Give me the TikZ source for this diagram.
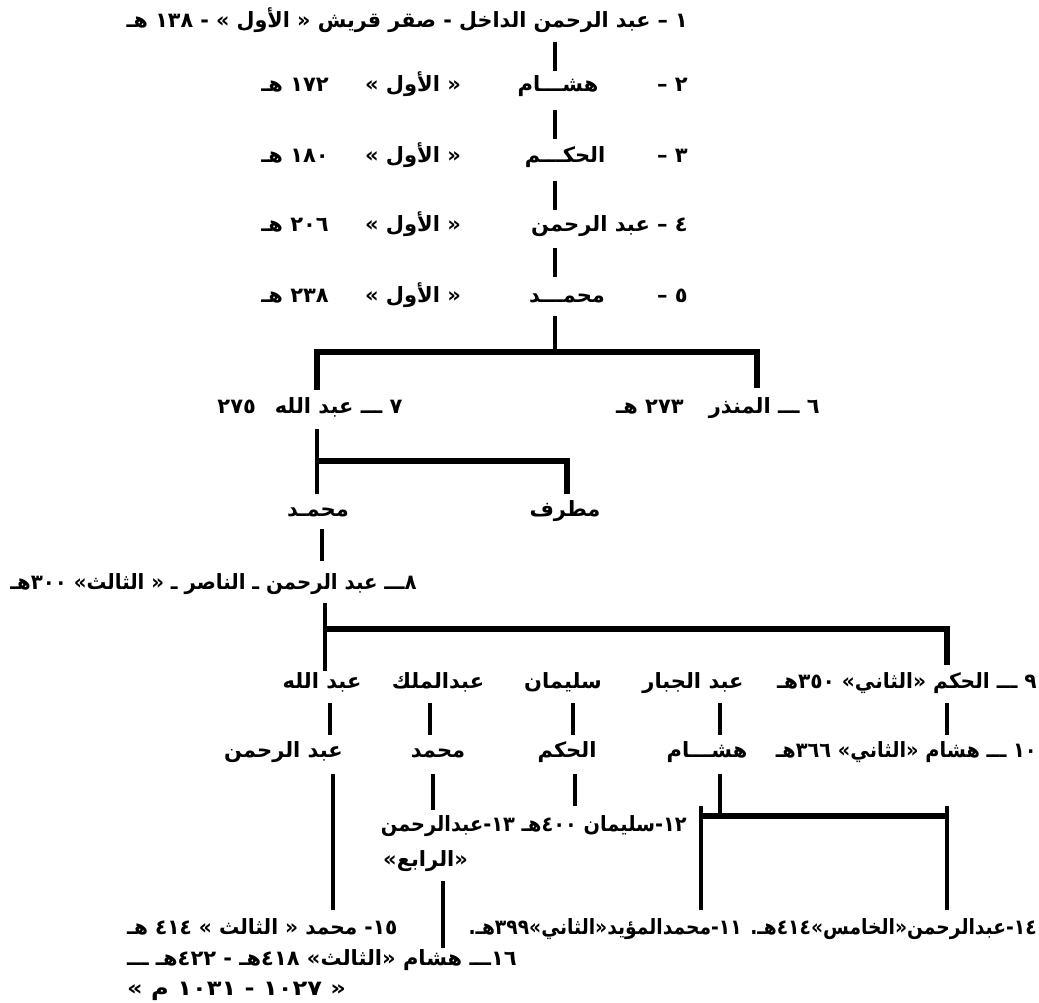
\documentclass[tikz,border=0pt]{standalone}
\usepackage{fontspec}
\newfontfamily\arf[Script=Arabic]{DejaVu Sans}
\TeXXeTstate=1
\newcommand{\arx}[1]{\beginR #1\endR}
\begin{document}
\begin{tikzpicture}[x=1pt,y=-1pt,
  lbl/.style={inner sep=0pt, text height=16pt, text depth=6pt, font=\arf\bfseries\fontsize{21}{24}\selectfont},
  vline/.style={line width=4.8pt},
  hbar/.style={line width=5.5pt, line join=miter}]
\fill[white] (0,0) rectangle (1039,1003);
\useasboundingbox (0,0) rectangle (1039,1003);
% ---------- rows 1-5 ----------
\node[lbl, anchor=east] (n1) at (688,23) {\scalebox{0.985}[1]{\arx{١ – عبد الرحمن الداخل - صقر قريش « الأول » - ١٣٨ هـ}}};
\node[lbl, anchor=east] (n2a) at (688,87) {\arx{٢ –}};
\node[lbl] (n2b) at (558,87) {\arx{هشـــام}};
\node[lbl] (n2c) at (413,87) {\arx{« الأول »}};
\node[lbl] (n2d) at (295,87) {\arx{١٧٢ هـ}};
\node[lbl, anchor=east] (n3a) at (688,158) {\arx{٣ –}};
\node[lbl] (n3b) at (565,158) {\arx{الحكـــم}};
\node[lbl] (n3c) at (413,158) {\arx{« الأول »}};
\node[lbl] (n3d) at (295,158) {\arx{١٨٠ هـ}};
\node[lbl, anchor=east] (n4a) at (688,227) {\arx{٤ – عبد الرحمن}};
\node[lbl] (n4c) at (413,227) {\arx{« الأول »}};
\node[lbl] (n4d) at (295,227) {\arx{٢٠٦ هـ}};
\node[lbl, anchor=east] (n5a) at (688,297) {\arx{٥ –}};
\node[lbl] (n5b) at (567,297) {\arx{محمـــد}};
\node[lbl] (n5c) at (413,297) {\arx{« الأول »}};
\node[lbl] (n5d) at (295,297) {\arx{٢٣٨ هـ}};
% ---------- rows 6-8 ----------
\node[lbl] (n7) at (310,408) {\arx{٧ ـــ عبد الله\hspace{0.9em}٢٧٥}};
\node[lbl] (n6) at (718,408) {\arx{٦ ـــ المنذر\hspace{1.2em}٢٧٣ هـ}};
\node[lbl] (m1) at (318,511) {\arx{محمـد}};
\node[lbl] (m2) at (565,511) {\arx{مطرف}};
\node[lbl, anchor=east] (n8) at (417,584) {\scalebox{0.94}[1]{\arx{٨ـــ عبد الرحمن ـ الناصر ـ « الثالث» ٣٠٠هـ}}};
% ---------- row 9-10 ----------
\node[lbl] (p1) at (322,683) {\arx{عبد الله}};
\node[lbl] (p2) at (438,683) {\arx{عبدالملك}};
\node[lbl] (p3) at (563,683) {\arx{سليمان}};
\node[lbl] (p4) at (693,683) {\arx{عبد الجبار}};
\node[lbl, anchor=east] (n9) at (1037,683) {\scalebox{0.96}[1]{\arx{٩ ـــ الحكم «الثاني» ٣٥٠هـ}}};
\node[lbl, anchor=east] (q1) at (343,752) {\arx{عبد الرحمن}};
\node[lbl] (q2) at (438,752) {\arx{محمد}};
\node[lbl] (q3) at (567,752) {\arx{الحكم}};
\node[lbl] (q4) at (707,752) {\arx{هشـــام}};
\node[lbl, anchor=east] (n10) at (1037,752) {\scalebox{0.92}[1]{\arx{١٠ ـــ هشام «الثاني» ٣٦٦هـ}}};
% ---------- rows 11-16 ----------
\node[lbl, anchor=east] (n12) at (687,826) {\scalebox{0.92}[1]{\arx{١٢-سليمان ٤٠٠هـ ١٣-عبدالرحمن}}};
\node[lbl, anchor=west] (n13) at (383,861) {\arx{«الرابع»}};
\node[lbl, anchor=east] (n14) at (1037,929) {\scalebox{0.89}[1]{\arx{١٤-عبدالرحمن«الخامس»٤١٤هـ. ١١-محمدالمؤيد«الثاني»٣٩٩هـ.}}};
\node[lbl, anchor=west] (n15) at (127,929) {\scalebox{0.96}[1]{\arx{١٥- محمد « الثالث » ٤١٤ هـ}}};
\node[lbl, anchor=east] (n16) at (517,960) {\arx{١٦ـــ هشام «الثالث» ٤١٨هـ - ٤٢٢هـ ـــ}};
\node[lbl, anchor=west] (n17) at (127,990) {\scalebox{1.15}[1]{\arx{« ١٠٢٧ - ١٠٣١ م »}}};
% ---------- connector coordinates ----------
\coordinate (a1) at (555,42);  \coordinate (a2) at (555,71);
\coordinate (b1) at (555,110); \coordinate (b2) at (555,139);
\coordinate (c1) at (555,181); \coordinate (c2) at (555,210);
\coordinate (d1) at (555,248); \coordinate (d2) at (555,277);
\coordinate (e1) at (555,316); \coordinate (e2) at (555,352);
\coordinate (f1) at (317,390); \coordinate (f2) at (317,352);
\coordinate (f3) at (757,352); \coordinate (f4) at (757,388);
\coordinate (g1) at (317,429); \coordinate (g2) at (317,494);
\coordinate (g3) at (317,461); \coordinate (g4) at (567,461); \coordinate (g5) at (567,494);
\coordinate (h1) at (322,529); \coordinate (h2) at (322,561);
\coordinate (k1) at (325,603); \coordinate (k2) at (325,671);
\coordinate (k3) at (325,629); \coordinate (k4) at (947,629); \coordinate (k5) at (947,665);
\coordinate (s1) at (330,703); \coordinate (s2) at (330,735);
\coordinate (s3) at (430,703); \coordinate (s4) at (430,735);
\coordinate (s5) at (573,703); \coordinate (s6) at (573,735);
\coordinate (s7) at (720,703); \coordinate (s8) at (720,735);
\coordinate (s9) at (947,703); \coordinate (s10) at (947,735);
\coordinate (t1) at (333,774); \coordinate (t2) at (333,910);
\coordinate (t3) at (433,774); \coordinate (t4) at (433,810);
\coordinate (t5) at (575,774); \coordinate (t6) at (575,806);
\coordinate (t7) at (720,774); \coordinate (t8) at (720,816);
\coordinate (u1) at (701,806); \coordinate (u2) at (701,910);
\coordinate (u3) at (701,816); \coordinate (u4) at (947,816);
\coordinate (u5) at (947,806); \coordinate (u6) at (947,910);
\coordinate (v1) at (443,881); \coordinate (v2) at (443,948);
% ---------- connectors ----------
\draw[vline] (a1) -- (a2);
\draw[vline] (b1) -- (b2);
\draw[vline] (c1) -- (c2);
\draw[vline] (d1) -- (d2);
\draw[vline] (e1) -- (e2);
\draw[hbar] (f1) -- (f2) -- (f3) -- (f4);
\draw[vline] (g1) -- (g2);
\draw[hbar] (g3) -- (g4) -- (g5);
\draw[vline] (h1) -- (h2);
\draw[vline] (k1) -- (k2);
\draw[hbar] (k3) -- (k4) -- (k5);
\draw[vline] (s1) -- (s2);
\draw[vline] (s3) -- (s4);
\draw[vline] (s5) -- (s6);
\draw[vline] (s7) -- (s8);
\draw[vline] (s9) -- (s10);
\draw[vline] (t1) -- (t2);
\draw[vline] (t3) -- (t4);
\draw[vline] (t5) -- (t6);
\draw[vline] (t7) -- (t8);
\draw[vline] (u1) -- (u2);
\draw[hbar] (u3) -- (u4);
\draw[vline] (u5) -- (u6);
\draw[vline] (v1) -- (v2);
\end{tikzpicture}
\end{document}
